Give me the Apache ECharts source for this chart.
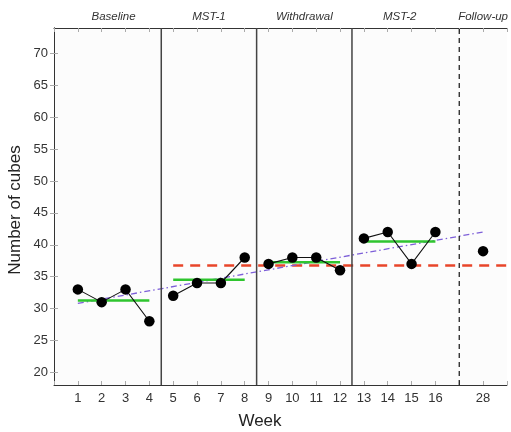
<!DOCTYPE html>
<html>
<head>
<meta charset="utf-8">
<script src="https://cdn.jsdelivr.net/npm/echarts@6/dist/echarts.min.js"></script>
<style>html,body{margin:0;padding:0;background:#fff}#c{width:511px;height:432px}</style>
</head>
<body>
<div id="c"></div>
<script>
// ---- data ----
const phaseNames = ['Baseline', 'MST-1', 'Withdrawal', 'MST-2', 'Follow-up'];
const baseline = [33, 31, 33, 28];
const mst1 = [32, 34, 34, 38];
const withdrawal = [37, 38, 38, 36];
const mst2 = [41, 42, 37, 42];
const followUp = [39];
const weekLabels = ['1','2','3','4','5','6','7','8','9','10','11','12','13','14','15','16','28'];
const yTicks = [20, 25, 30, 35, 40, 45, 50, 55, 60, 65, 70];
const redLevel = 36.75;          // dashed red reference level
const trendValues = [30.8, 42.0]; // dash-dot trend, at first week and follow-up

// ---- build positions ----
const phases = [baseline, mst1, withdrawal, mst2];
let pos = 1;
const phaseData = phases.map(arr => arr.map(v => [pos++, v]));
const followPos = pos + 1; // gap for the follow-up separator
const followData = followUp.map(v => [followPos, v]);
const labelAt = {};
phaseData.flat().concat(followData).forEach((d, i) => { labelAt[d[0]] = weekLabels[i]; });
const phaseBounds = phaseData.map(p => [p[0][0], p[p.length - 1][0]]);
const separators = phaseBounds.slice(0, -1).map((b, i) => (b[1] + phaseBounds[i + 1][0]) / 2);
const followSep = (phaseBounds[3][1] + followPos) / 2;
const phaseCenters = phaseBounds.map(b => (b[0] + b[1]) / 2).concat([followPos]);
const mean = a => a.reduce((s, v) => s + v, 0) / a.length;

const xMin = 0, xMax = followPos + 1, yMin = 18, yMax = 74;
const font = 'Liberation Sans, Arial, sans-serif';

const series = [];
phaseData.forEach((d, i) => {
  series.push({
    type: 'line', data: d, symbol: 'circle', symbolSize: 10.5,
    itemStyle: { color: '#000', opacity: 1 }, lineStyle: { color: '#111', width: 1.1 },
    z: 5, animation: false
  });
  const m = mean(phases[i]);
  series.push({
    type: 'line', data: [[phaseBounds[i][0], m], [phaseBounds[i][1], m]], symbol: 'none',
    lineStyle: { color: '#2fc52f', width: 2.5 }, z: 3, animation: false
  });
});
series.push({
  type: 'scatter', data: followData, symbol: 'circle', symbolSize: 10.5,
  itemStyle: { color: '#000', opacity: 1 }, z: 5, animation: false
});
// red dashed level
series.push({
  type: 'line', data: [[phaseBounds[1][0], redLevel], [xMax, redLevel]], symbol: 'none',
  lineStyle: { color: '#e8452a', width: 2.5, type: [10, 7] }, z: 2, animation: false
});
// trend
series.push({
  type: 'line', data: [[phaseBounds[0][0], trendValues[0]], [followPos, trendValues[1]]], symbol: 'none',
  lineStyle: { color: '#7d5fd8', width: 1.3, type: [6, 3, 1.5, 3] }, z: 2, animation: false
});
// phase separators
separators.forEach(x => {
  series.push({
    type: 'line', data: [[x, yMin], [x, yMax]], symbol: 'none',
    lineStyle: { color: '#444', width: 1.5 }, z: 4, animation: false
  });
});
series.push({
  type: 'line', data: [[followSep, yMin], [followSep, yMax]], symbol: 'none',
  lineStyle: { color: '#111', width: 1.2, type: [5, 4] }, z: 4, animation: false
});

const tickStyle = { show: true, inside: true, length: 4, lineStyle: { color: '#aaa', width: 1 } };
const lineStyle = { show: true, lineStyle: { color: '#333', width: 1 } };

const chart = echarts.init(document.getElementById('c'), null, { renderer: 'canvas' });
chart.setOption({
  animation: false,
  grid: { left: 54, right: 2, top: 28, bottom: 47, show: true, backgroundColor: '#fcfcfc', borderWidth: 0 },
  xAxis: [
    { type: 'value', position: 'bottom', min: xMin, max: xMax, interval: 1,
      axisLine: lineStyle, axisTick: tickStyle, splitLine: { show: false },
      axisLabel: { margin: 7, fontSize: 13, color: '#333', fontFamily: font,
        showMinLabel: true, showMaxLabel: true,
        formatter: v => labelAt[v] || '' } },
    { type: 'value', position: 'top', min: xMin, max: xMax, interval: 1,
      axisLine: lineStyle, axisTick: tickStyle, splitLine: { show: false }, axisLabel: { show: false } },
    { type: 'value', position: 'top', min: xMin, max: xMax,
      axisLine: { show: false }, axisTick: { show: false }, splitLine: { show: false },
      axisLabel: { margin: 5, fontSize: 11.5, fontStyle: 'italic', color: '#333', fontFamily: font,
        customValues: phaseCenters,
        formatter: v => { const i = phaseCenters.indexOf(v); return i >= 0 ? phaseNames[i] : ''; } } }
  ],
  yAxis: [
    { type: 'value', position: 'left', min: yMin, max: yMax,
      axisLine: lineStyle, axisTick: Object.assign({ customValues: yTicks }, tickStyle), splitLine: { show: false },
      axisLabel: { customValues: yTicks, margin: 6, fontSize: 13, color: '#333', fontFamily: font } },
    { type: 'value', position: 'right', min: yMin, max: yMax,
      axisLine: lineStyle, axisTick: Object.assign({ customValues: yTicks }, tickStyle), splitLine: { show: false },
      axisLabel: { show: false } }
  ],
  graphic: [
    { type: 'text', x: 260, y: 421, style: { text: 'Week', fontSize: 17, fontFamily: font, fill: '#222',
      textAlign: 'center', textVerticalAlign: 'middle' } },
    { type: 'text', x: 15, y: 210, rotation: Math.PI / 2, style: { text: 'Number of cubes', fontSize: 17, fontFamily: font, fill: '#222',
      textAlign: 'center', textVerticalAlign: 'middle' } }
  ],
  series: series
});
</script>
</body>
</html>
